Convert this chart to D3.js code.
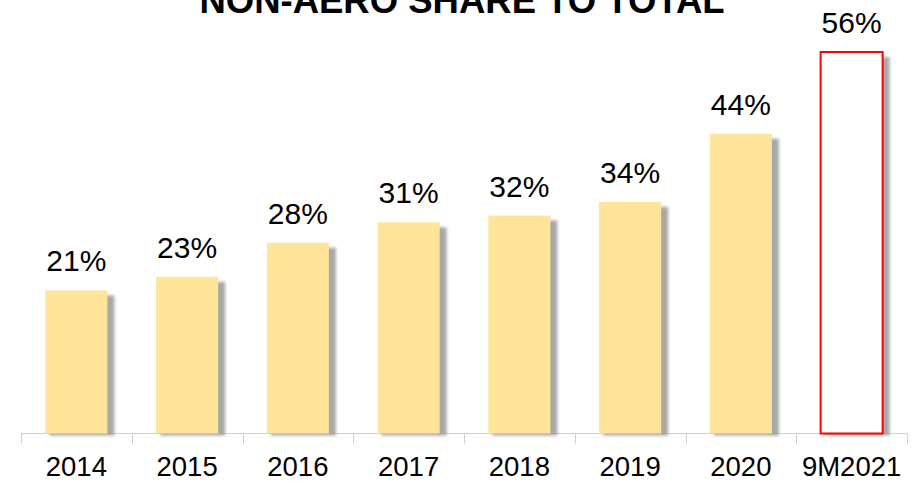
<!DOCTYPE html>
<html>
<head>
<meta charset="utf-8">
<script src="https://cdn.jsdelivr.net/npm/d3@7"></script>
<style>
    body { margin: 0; background: #fff; }
    text { font-family: "Liberation Sans", Arial, sans-serif; fill: #000; }
</style>
</head>
<body>
<svg class="chart"></svg>
<script>
var categories = ["2014", "2015", "2016", "2017", "2018", "2019", "2020", "9M2021"];
var shares = [21, 23, 28, 31, 32, 34, 44, 56];
var labels = ["21%", "23%", "28%", "31%", "32%", "34%", "44%", "56%"];
var title = "NON-AERO SHARE TO TOTAL";

var width = 918;
var height = 485;
var baseline = 433.5;

var chart = d3.select(".chart")
    .attr("width", width)
    .attr("height", height);

var defs = chart.append("defs");
defs.append("filter")
    .attr("id", "soft")
    .attr("x", "-50%").attr("y", "-10%")
    .attr("width", "200%").attr("height", "120%")
    .append("feGaussianBlur")
    .attr("stdDeviation", 1.6);

var x = d3.scaleBand()
    .domain(categories)
    .range([21, 907]);

var y = d3.scaleLinear()
    .domain([0, 56])
    .range([baseline, 52]);

var barW = x.bandwidth() * 0.56;

var data = categories.map(function(c, i) {
    return { cat: c, value: shares[i], label: labels[i], last: i === categories.length - 1 };
});

// title (cut off at top, like the slide)
chart.append("text")
    .attr("x", 462)
    .attr("y", 13)
    .attr("text-anchor", "middle")
    .style("font-size", "36.5px")
    .style("font-weight", "bold")
    .text(title);

// axis line and ticks at band edges
var axis = chart.append("g").attr("class", "axis");
axis.append("line")
    .attr("x1", x.range()[0]).attr("x2", x.range()[1])
    .attr("y1", baseline).attr("y2", baseline)
    .attr("stroke", "#d0d0d0").attr("stroke-width", 1);

var edges = categories.map(function(c) { return x(c); }).concat([x.range()[1]]);
axis.selectAll(".tick")
    .data(edges)
    .enter().append("line")
    .attr("x1", function(d) { return Math.round(d) + 0.5; })
    .attr("x2", function(d) { return Math.round(d) + 0.5; })
    .attr("y1", baseline)
    .attr("y2", baseline + 10)
    .attr("stroke", "#d0d0d0");

var bars = chart.append("g").attr("class", "bars")
    .selectAll("g")
    .data(data)
    .enter().append("g");

function barX(d) {
    return x(d.cat) + (x.bandwidth() - barW) / 2;
}

// shadow
bars.append("rect")
    .attr("x", function(d) { return barX(d) + 4; })
    .attr("y", function(d) { return y(d.value) + 5; })
    .attr("width", barW + 3)
    .attr("height", function(d) { return baseline - y(d.value) - 3; })
    .attr("fill", "#8c8c8c")
    .attr("opacity", 0.75)
    .attr("filter", "url(#soft)");

bars.append("rect")
    .attr("x", function(d) { return barX(d); })
    .attr("y", function(d) { return y(d.value); })
    .attr("width", barW)
    .attr("height", function(d) { return baseline - y(d.value); })
    .attr("fill", function(d) { return d.last ? "#ffffff" : "#fee599"; })
    .attr("stroke", function(d) { return d.last ? "#ff0000" : "none"; })
    .attr("stroke-width", 2);

bars.append("text")
    .attr("x", function(d) { return x(d.cat) + x.bandwidth() / 2; })
    .attr("y", function(d) { return y(d.value) - 19; })
    .attr("text-anchor", "middle")
    .style("font-size", "30px")
    .text(function(d) { return d.label; });

chart.append("g").attr("class", "cats")
    .selectAll("text")
    .data(categories)
    .enter().append("text")
    .attr("x", function(d) { return x(d) + x.bandwidth() / 2; })
    .attr("y", 476)
    .attr("text-anchor", "middle")
    .style("font-size", "27.5px")
    .text(function(d) { return d; });
</script>
</body>
</html>
